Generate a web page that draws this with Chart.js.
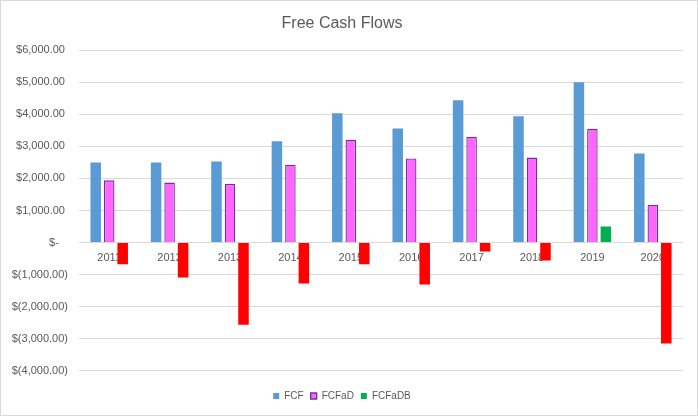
<!DOCTYPE html>
<html>
<head>
<meta charset="utf-8">
<script src="https://cdn.jsdelivr.net/npm/chart.js@4"></script>
<style>
  html, body { margin: 0; padding: 0; background: #fff; }
  #wrap { width: 698px; height: 416px; box-sizing: border-box; border: 1px solid #D9D9D9; }
</style>
</head>
<body>
<div id="wrap"><canvas id="chart"></canvas></div>
<script>
const years = ['2011', '2012', '2013', '2014', '2015', '2016', '2017', '2018', '2019', '2020'];
const fcf = [2500, 2500, 2530, 3160, 4030, 3560, 4440, 3940, 5000, 2780];
const fcfad = [1940, 1870, 1830, 2430, 3210, 2620, 3300, 2650, 3550, 1180];
const fcfadb = [-680, -1090, -2560, -1280, -680, -1310, -280, -560, 500, -3150];

const grey = '#595959';
const font = { family: 'Liberation Sans', size: 11 };

function money(v) {
    if (v === 0) return '$-   ';
    const s = Math.abs(v).toLocaleString('en-US', { minimumFractionDigits: 2, maximumFractionDigits: 2 });
    return v < 0 ? '$(' + s + ')' : '$' + s + ' ';
}

const ctx = document.getElementById('chart').getContext('2d');
const chart = new Chart(ctx, {
    type: 'bar',
    data: {
        labels: years,
        datasets: [{
            label: 'FCF',
            data: fcf,
            backgroundColor: '#5B9BD5'
        }, {
            label: 'FCFaD',
            data: fcfad,
            backgroundColor: '#FF66FF',
            borderColor: '#7030A0',
            borderWidth: 1.3
        }, {
            label: 'FCFaDB',
            data: fcfadb,
            backgroundColor: fcfadb.map(v => v < 0 ? '#FF0000' : '#00B050')
        }]
    },
    options: {
        responsive: true,
        maintainAspectRatio: false,
        animation: false,
        categoryPercentage: 0.67,
        barPercentage: 0.78,
        layout: { padding: { left: 0, right: 14, bottom: 4 } },
        plugins: {
            title: {
                display: true,
                text: 'Free Cash Flows',
                color: grey,
                font: { family: 'Liberation Sans', size: 16, weight: 'normal' },
                padding: { top: 13, bottom: 17 }
            },
            legend: {
                position: 'bottom',
                title: { display: true, text: '', font: { size: 1 }, padding: { top: 12, bottom: 0 } },
                labels: {
                    color: grey,
                    font: { family: 'Liberation Sans', size: 10 },
                    boxWidth: 6,
                    boxHeight: 6,
                    padding: 7,
                    generateLabels: c => {
                        const items = Chart.defaults.plugins.legend.labels.generateLabels(c);
                        items[2].fillStyle = '#00B050';
                        items[2].strokeStyle = '#00B050';
                        return items;
                    }
                }
            },
            tooltip: { enabled: false }
        },
        scales: {
            x: {
                position: { y: 0 },
                grid: { display: false, drawTicks: false },
                border: { display: false },
                ticks: { color: grey, font: font, padding: 9 }
            },
            y: {
                min: -4000,
                max: 6000,
                ticks: { stepSize: 1000, color: grey, font: font, padding: 11, callback: v => money(v) },
                grid: { color: '#D9D9D9', drawTicks: false },
                border: { display: false },
                afterFit: s => { s.width = 78; }
            }
        }
    }
});
</script>
</body>
</html>
